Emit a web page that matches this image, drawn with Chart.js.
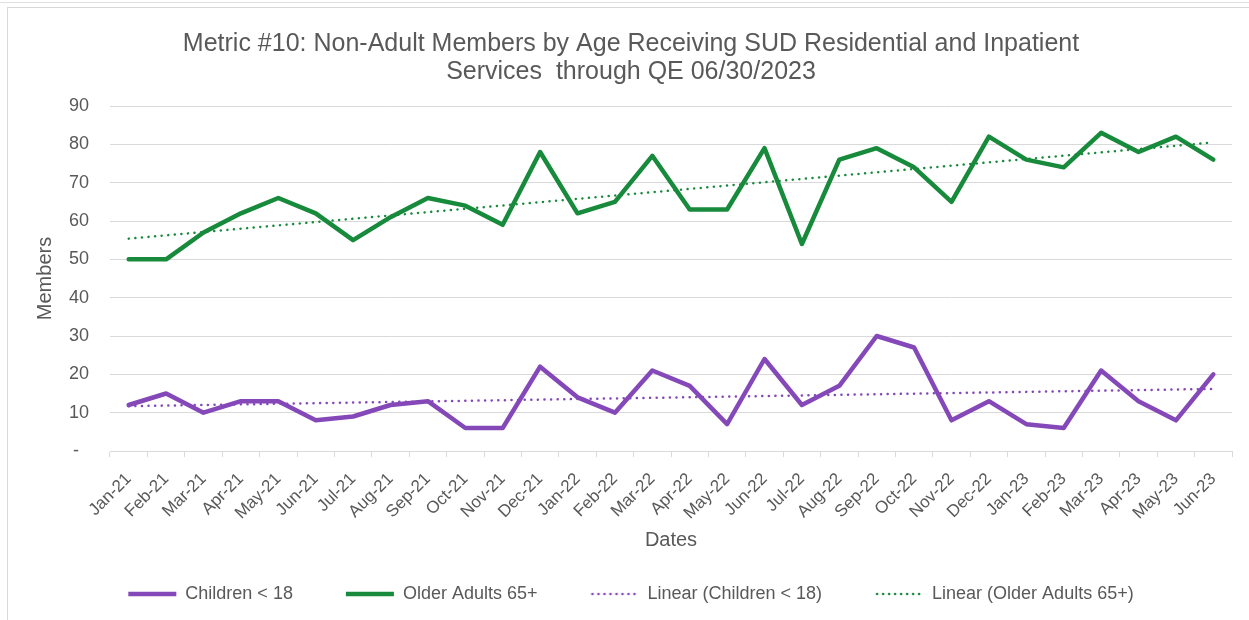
<!DOCTYPE html>
<html>
<head>
<meta charset="utf-8">
<script src="https://cdn.jsdelivr.net/npm/chart.js@4"></script>
<style>
  html, body { margin: 0; padding: 0; width: 1249px; height: 620px; overflow: hidden; background: #fff; }
  #frame { position: absolute; left: 7px; top: 7px; width: 1300px; height: 700px; border: 1px solid #d9d9d9; box-sizing: border-box; }
  #topline { position: absolute; left: 0; top: 0; width: 1249px; height: 2px; border-bottom: 1px solid #e0e0e0; }
  #wrap { position: absolute; left: 0; top: 0; width: 1249px; height: 613px; }
</style>
</head>
<body>
<div id="topline"></div>
<div id="frame"></div>
<div id="wrap"><canvas id="chart"></canvas></div>
<script>
const months = ['Jan-21','Feb-21','Mar-21','Apr-21','May-21','Jun-21','Jul-21','Aug-21','Sep-21','Oct-21','Nov-21','Dec-21',
  'Jan-22','Feb-22','Mar-22','Apr-22','May-22','Jun-22','Jul-22','Aug-22','Sep-22','Oct-22','Nov-22','Dec-22',
  'Jan-23','Feb-23','Mar-23','Apr-23','May-23','Jun-23'];
const children = [12,15,10,13,13,8,9,12,13,6,6,22,14,10,21,17,7,24,12,17,30,27,8,13,7,6,21,13,8,20];
const olderAdults = [50,50,57,62,66,62,55,61,66,64,59,78,62,65,77,63,63,79,54,76,79,74,65,82,76,74,83,78,82,76];
// trend line ends
const childrenTrend = [11.7, 16.2];
const olderTrend = [55.4, 80.5];
const yTicks = [0,10,20,30,40,50,60,70,80,90];

const purple = '#8448b8';
const green = '#178a3c';
const grey = '#595959';
const font = 'Liberation Sans, Arial, sans-serif';

const trendPoints = ends => [{x: months[0], y: ends[0]}, {x: months[months.length - 1], y: ends[1]}];

// dotted sample for the legend (legend point styles ignore borderDash)
const dottedSample = color => {
  const c = document.createElement('canvas');
  c.width = 48; c.height = 6;
  const g = c.getContext('2d');
  g.fillStyle = color;
  for (let x = 2; x < 48; x += 6) {
    g.beginPath();
    g.arc(x, 3, 1.3, 0, Math.PI * 2);
    g.fill();
  }
  return c;
};

new Chart(document.getElementById('chart'), {
  type: 'line',
  data: {
    labels: months,
    datasets: [
      {label: 'Children < 18', data: children, borderColor: purple, backgroundColor: purple,
        borderWidth: 4.5, pointRadius: 0, pointStyle: 'line', borderCapStyle: 'round', borderJoinStyle: 'round', tension: 0},
      {label: 'Older Adults 65+', data: olderAdults, borderColor: green, backgroundColor: green,
        borderWidth: 4.5, pointRadius: 0, pointStyle: 'line', borderCapStyle: 'round', borderJoinStyle: 'round', tension: 0},
      {label: 'Linear (Children < 18)', data: trendPoints(childrenTrend), borderColor: purple, backgroundColor: purple,
        borderWidth: 2.5, borderDash: [0.1, 6.5], borderCapStyle: 'round', pointRadius: 0, pointStyle: dottedSample(purple)},
      {label: 'Linear (Older Adults 65+)', data: trendPoints(olderTrend), borderColor: green, backgroundColor: green,
        borderWidth: 2.5, borderDash: [0.1, 6.5], borderCapStyle: 'round', pointRadius: 0, pointStyle: dottedSample(green)}
    ]
  },
  options: {
    responsive: true,
    maintainAspectRatio: false,
    animation: false,
    events: [],
    layout: {padding: {top: 20, left: 30, right: 17, bottom: 0}},
    plugins: {
      title: {
        display: true,
        text: ['Metric #10: Non-Adult Members by Age Receiving SUD Residential and Inpatient', 'Services  through QE 06/30/2023'],
        color: grey,
        font: {family: font, size: 25, weight: 'normal', lineHeight: 1.12},
        padding: {top: 10, bottom: 20}
      },
      legend: {
        position: 'bottom',
        labels: {
          color: grey,
          font: {family: font, size: 18},
          usePointStyle: true,
          pointStyleWidth: 48,
          boxWidth: 48,
          boxHeight: 18,
          padding: 53
        }
      },
      tooltip: {enabled: false}
    },
    scales: {
      x: {
        type: 'category',
        offset: true,
        grid: {display: true, drawOnChartArea: false, drawTicks: true, tickLength: 6, color: '#d9d9d9', offset: true},
        border: {display: true, color: '#d9d9d9', width: 1},
        ticks: {color: grey, font: {family: font, size: 17}, minRotation: 45, maxRotation: 45, autoSkip: false, padding: 12},
        title: {display: true, text: 'Dates', color: grey, font: {family: font, size: 20}, padding: {top: 0, bottom: -20}},
        afterFit: s => { s.height = 81; }
      },
      y: {
        min: 0,
        max: 90,
        afterBuildTicks: s => { s.ticks = yTicks.map(v => ({value: v})); },
        grid: {color: '#d9d9d9', drawTicks: false},
        border: {display: false},
        ticks: {color: grey, font: {family: font, size: 18}, padding: 21,
          callback: v => v === 0 ? '-  ' : v},
        title: {display: true, text: 'Members', color: grey, font: {family: font, size: 20}, padding: {top: 3, bottom: 0}},
        afterFit: s => { s.width = 80; }
      }
    }
  }
});
</script>
</body>
</html>
